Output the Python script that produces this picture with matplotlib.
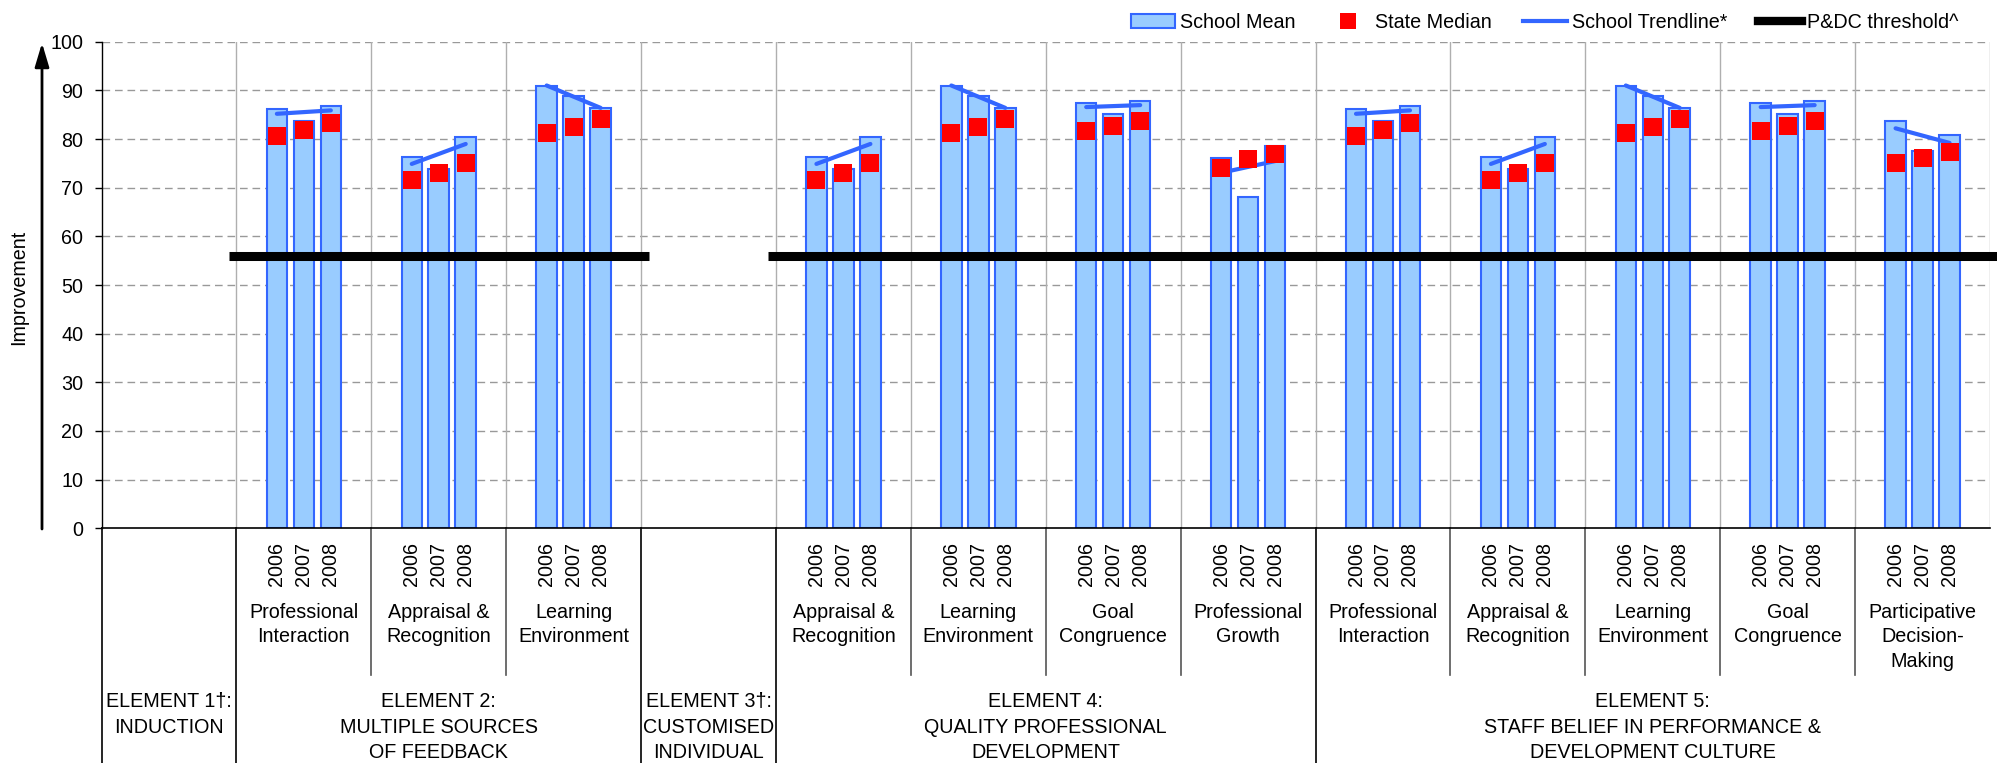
import numpy as np
import matplotlib
matplotlib.use("Agg")
from matplotlib import pyplot as plt
from matplotlib.patches import Patch
from matplotlib.lines import Line2D
from matplotlib.transforms import blended_transform_factory

plt.rcParams['font.family'] = ['Liberation Sans', 'DejaVu Sans']

# ---- data ----
elements = ["ELEMENT 1\u2020:\nINDUCTION",
            "ELEMENT 2:\nMULTIPLE SOURCES\nOF FEEDBACK",
            "ELEMENT 3\u2020:\nCUSTOMISED\nINDIVIDUAL",
            "ELEMENT 4:\nQUALITY PROFESSIONAL\nDEVELOPMENT",
            "ELEMENT 5:\nSTAFF BELIEF IN PERFORMANCE &\nDEVELOPMENT CULTURE"]
element_slots = [1, 3, 1, 4, 5]
has_threshold = [False, True, False, True, True]

subcats = ["",
           "Professional\nInteraction", "Appraisal &\nRecognition", "Learning\nEnvironment",
           "",
           "Appraisal &\nRecognition", "Learning\nEnvironment", "Goal\nCongruence", "Professional\nGrowth",
           "Professional\nInteraction", "Appraisal &\nRecognition", "Learning\nEnvironment",
           "Goal\nCongruence", "Participative\nDecision-\nMaking"]
years = ["2006", "2007", "2008"]

nan = np.nan
school_mean = [[nan, nan, nan],
               [86.1, 83.7, 86.8], [76.4, 73.9, 80.5], [90.9, 88.9, 86.3],
               [nan, nan, nan],
               [76.4, 73.9, 80.5], [90.9, 88.9, 86.3], [87.4, 85.1, 87.8], [76.2, 68.0, 78.6],
               [86.1, 83.7, 86.8], [76.4, 73.9, 80.5], [90.9, 88.9, 86.3], [87.4, 85.1, 87.8],
               [83.8, 77.5, 80.8]]
state_median = [[nan, nan, nan],
                [80.7, 81.9, 83.2], [71.6, 73.1, 75.1], [81.3, 82.5, 84.2],
                [nan, nan, nan],
                [71.6, 73.1, 75.1], [81.3, 82.5, 84.2], [81.7, 82.7, 83.8], [74.1, 75.9, 77.0],
                [80.7, 81.9, 83.2], [71.6, 73.1, 75.1], [81.3, 82.5, 84.2], [81.7, 82.7, 83.8],
                [75.1, 76.2, 77.4]]
threshold = 56

W, H = 1997, 763
fig = plt.figure(figsize=(W / 100, H / 100), dpi=100)
ax = fig.add_axes([101.5 / W, 1 - 528.3 / H, (1990 - 101.5) / W, (528.3 - 41.7) / H])

FS = 14.2
BLUE = '#3366FF'
per_slot = 5
nslots = len(subcats)

for s in range(nslots):
    xs = s * per_slot + 1 + np.arange(3)
    sm = np.array(school_mean[s])
    md = np.array(state_median[s])
    if np.all(np.isnan(sm)):
        continue
    ax.bar(xs, sm, width=0.76, color='#99CCFF', edgecolor=BLUE, linewidth=1.5, zorder=2)
    k, b = np.polyfit(xs, sm, 1)
    ax.plot([xs[0], xs[-1]], [k * xs[0] + b, k * xs[-1] + b], color=BLUE, lw=3,
            solid_capstyle='round', zorder=4)
    ax.plot(xs, md, 's', color='red', ms=12.5, mew=0, zorder=5)

# threshold over elements that have data
edges = np.concatenate([[0], np.cumsum(element_slots)]) * per_slot - 0.5
for i, on in enumerate(has_threshold):
    if on:
        ax.plot([edges[i] - 0.28, edges[i + 1] + 0.28], [threshold, threshold], color='black',
                lw=6.5, solid_capstyle='butt', zorder=3, clip_on=False)

ax.set_xlim(-0.5, nslots * per_slot - 0.5)
ax.set_ylim(0, 100)
ax.set_yticks(range(0, 101, 10))
ax.tick_params(axis='y', direction='out', length=5, width=1, pad=8, labelsize=FS)
ax.set_xticks([])
for sp in ['top', 'right']:
    ax.spines[sp].set_visible(False)
ax.spines['left'].set_linewidth(1)
ax.spines['bottom'].set_linewidth(1.2)
for v in range(10, 101, 10):
    ax.axhline(v, color='#999999', lw=1, ls=(0, (5.5, 3.5)), zorder=1)
for s in range(1, nslots + 1):
    ax.axvline(s * per_slot - 0.5, color='#AFAFAF', lw=1, zorder=1)

# table below the plot
tb = blended_transform_factory(ax.transData, fig.transFigure)
def fy(px):
    return 1 - px / H

elem_bounds = set(np.cumsum(element_slots)[:-1])
ax.plot([-0.5, -0.5], [fy(528), fy(763)], color='black', lw=1.2, transform=tb, clip_on=False)
for s in range(1, nslots):
    x = s * per_slot - 0.5
    if s in elem_bounds:
        ax.plot([x, x], [fy(528), fy(763)], color='black', lw=1.2, transform=tb, clip_on=False)
    else:
        ax.plot([x, x], [fy(528), fy(675)], color='#555555', lw=1.2, transform=tb, clip_on=False)

for s in range(nslots):
    if not subcats[s]:
        continue
    for j, yr in enumerate(years):
        ax.text(s * per_slot + 1 + j, fy(542), yr, rotation=90, ha='center', va='top',
                fontsize=FS, transform=tb)
    ax.text(s * per_slot + 2, fy(603), subcats[s], ha='center', va='top', fontsize=FS,
            linespacing=1.36, transform=tb)

for i, name in enumerate(elements):
    xc = (edges[i] + edges[i + 1]) / 2
    ax.text(xc, fy(692), name, ha='center', va='top', fontsize=FS, linespacing=1.44, transform=tb)

# y label and arrow
fig.text(19 / W, 1 - 287 / H, "Improvement", rotation=90, ha='center', va='center', fontsize=FS)
ax.annotate('', xy=(42 / W, 1 - 43 / H), xytext=(42 / W, 1 - 529 / H), xycoords='figure fraction',
            arrowprops=dict(arrowstyle='-|>,head_width=0.43,head_length=1.44', mutation_scale=10,
                            lw=2, color='black', shrinkA=0, shrinkB=0))

handles = [Patch(facecolor='#99CCFF', edgecolor=BLUE, linewidth=1.5),
           Line2D([], [], marker='s', color='red', ls='none', ms=12, mew=0),
           Line2D([], [], color=BLUE, lw=3),
           Line2D([], [], color='black', lw=6)]
labels = ["School Mean", "State Median", "School Trendline*", "P&DC threshold^"]
fig.legend(handles, labels, loc='upper right', bbox_to_anchor=(1968 / W, 1 - 3 / H), ncol=4,
           frameon=False, fontsize=FS, borderpad=0, handlelength=2.2, handletextpad=0.25,
           columnspacing=1.6, handleheight=0.65)

fig.savefig("out.png", dpi=100)
